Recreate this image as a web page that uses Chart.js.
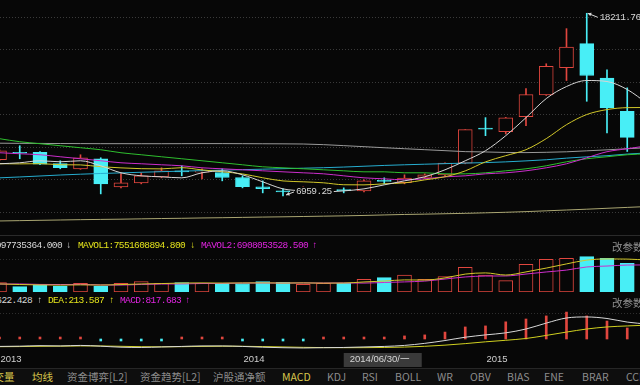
<!DOCTYPE html>
<html lang="zh-CN">
<head>
<meta charset="utf-8">
<title>月线 K线 / 成交量 / MACD</title>
<script src="https://cdn.jsdelivr.net/npm/chart.js@4.4.1/dist/chart.umd.min.js"></script>
<style>
  html, body { margin: 0; padding: 0; }
  body { width: 640px; height: 385px; background: #070707; position: relative; overflow: hidden; }
  canvas { position: absolute; left: 0; }
  .t { position: absolute; white-space: nowrap; font-family: "Liberation Mono", monospace; font-size: 9.5px; letter-spacing: -0.6px; line-height: 10px; }
  .cfg { position: absolute; left: 612px; white-space: nowrap; font: 10.5px "Noto Sans CJK SC", sans-serif; line-height: 12px; color: #8f8f8f; }
  .sep { position: absolute; left: 0; width: 640px; height: 1px; background: #2a2a2a; }
  #tabs { position: absolute; left: 0; top: 368px; width: 640px; height: 17px; background: #0e0e0e; border-top: 1px solid #262626; }
  #tabs span { position: absolute; top: 0; white-space: nowrap; font: 10.5px "Noto Sans CJK SC", sans-serif; line-height: 16px; color: #8c8c8c; }
  #tabs span.on { color: #d8c64c; }
</style>
</head>
<body>
<canvas id="kline" width="640" height="232" style="top:0"></canvas>
<div class="sep" style="top:235px"></div>
<canvas id="vol" width="640" height="52" style="top:240px"></canvas>
<canvas id="macd" width="640" height="62" style="top:306px"></canvas>

<!-- cabeceras de los paneles -->
<span class="t" style="right:578px;top:241px;color:#d8d8d8">VOL:6097735364.000</span>
<span class="t" style="left:66px;top:241px;color:#d8d8d8">↓</span>
<span class="t" style="left:78px;top:241px;color:#e4e41c">MAVOL1:7551608894.800</span>
<span class="t" style="left:190px;top:241px;color:#e4e41c">↓</span>
<span class="t" style="left:201px;top:241px;color:#e024e0">MAVOL2:6908053528.500</span>
<span class="t" style="left:312px;top:241px;color:#e024e0">↑</span>
<span class="cfg" style="top:241px">改参数</span>

<span class="t" style="right:608px;top:296px;color:#d8d8d8">DIF:622.428</span>
<span class="t" style="left:37px;top:296px;color:#d8d8d8">↑</span>
<span class="t" style="left:48px;top:296px;color:#e4e41c">DEA:213.587</span>
<span class="t" style="left:109px;top:296px;color:#e4e41c">↑</span>
<span class="t" style="left:120px;top:296px;color:#e024e0">MACD:817.683</span>
<span class="t" style="left:185px;top:296px;color:#e024e0">↑</span>
<span class="cfg" style="top:297px">改参数</span>

<div id="tabs">
  <span class="on" style="left:-17px">成交量</span>
  <span class="on" style="left:32px">均线</span>
  <span style="left:67px">资金博弈[L2]</span>
  <span style="left:140px">资金趋势[L2]</span>
  <span style="left:213px">沪股通净额</span>
  <span class="on" style="left:282px">MACD</span>
  <span style="left:327px">KDJ</span>
  <span style="left:362px">RSI</span>
  <span style="left:395px">BOLL</span>
  <span style="left:437px">WR</span>
  <span style="left:470px">OBV</span>
  <span style="left:507px">BIAS</span>
  <span style="left:544px">ENE</span>
  <span style="left:582px">BRAR</span>
  <span style="left:626px">CCI</span>
</div>

<script>
// datos mensuales
const months = ["2013-01","2013-02","2013-03","2013-04","2013-05","2013-06","2013-07","2013-08","2013-09","2013-10","2013-11","2013-12",
                "2014-01","2014-02","2014-03","2014-04","2014-05","2014-06","2014-07","2014-08","2014-09","2014-10","2014-11","2014-12",
                "2015-01","2015-02","2015-03","2015-04","2015-05","2015-06","2015-07","2015-08","2015-09"];
const open  = [9189, 9622, 9640, 8960, 8633, 9251, 7520, 7768, 8139, 8509, 8430, 8404, 8095, 7520, 7230, 7211, 7330, 7350, 7273, 7891, 7786, 8095, 8262, 8985, 11105, 10920, 11847, 13187, 14856, 16338, 14213, 12174, 10600];
const high  = [9800, 10054, 9700, 9127, 9498, 9313, 8386, 8386, 8695, 8818, 8633, 8633, 8200, 7891, 7397, 7520, 7460, 7459, 7953, 8077, 8262, 8324, 9004, 11043, 11785, 11800, 13577, 15103, 17266, 18211.76, 14731, 13620, 10900];
const low   = [9127, 9251, 8880, 8633, 8600, 7088, 7459, 7706, 8077, 8200, 8015, 7891, 7459, 7150, 6959.25, 7150, 7150, 7150, 7211, 7706, 7706, 8040, 8200, 8942, 10672, 10777, 11291, 13150, 14071, 12792, 10838, 9700, 9300];
const close = [9745, 9590, 8925, 8710, 9313, 7706, 7768, 8200, 8509, 8440, 8460, 8095, 7538, 7415, 7211, 7335, 7360, 7290, 7891, 7860, 8058, 8262, 8985, 11043, 11075, 11766, 13206, 14937, 16130, 14380, 12384, 10567, 10000];

const ma5   = [8942, 9004, 9127, 9065, 9127, 8818, 8386, 8200, 8139, 8076, 8386, 8509, 8262, 7829, 7397, 7273, 7211, 7273, 7397, 7644, 7891, 8139, 8571, 9127, 9745, 10672, 11784, 12959, 13700, 14071, 14009, 13515, 12650];
const ma10  = [8948, 8936, 8951, 8884, 8873, 8760, 8690, 8640, 8628, 8702, 8566, 8450, 8318, 8080, 7886, 7832, 7770, 7650, 7642, 7710, 7765, 7950, 8142, 8505, 9060, 9440, 9810, 10490, 11350, 11975, 12280, 12400, 12410];
const ma20  = [9622, 9560, 9498, 9374, 9251, 9127, 9004, 8942, 8880, 8818, 8695, 8633, 8571, 8509, 8447, 8386, 8324, 8200, 8076, 8015, 7953, 8015, 8139, 8200, 8324, 8386, 8509, 8695, 8942, 9313, 9684, 9869, 10054];
const ma30  = [10487, 10301, 10178, 10054, 9930, 9807, 9622, 9498, 9374, 9251, 9127, 9004, 8880, 8756, 8695, 8633, 8571, 8509, 8447, 8447, 8386, 8386, 8324, 8324, 8386, 8509, 8633, 8818, 9065, 9251, 9374, 9498, 9560];
const ma60  = [8076, 8130, 8190, 8250, 8300, 8345, 8380, 8420, 8455, 8490, 8520, 8550, 8580, 8610, 8640, 8670, 8700, 8740, 8790, 8840, 8880, 8915, 8950, 8985, 9015, 9060, 9120, 9190, 9290, 9370, 9440, 9540, 9610];
const ma120 = [10210, 10200, 10195, 10190, 10185, 10180, 10180, 10178, 10178, 10180, 10185, 10185, 10180, 10175, 10170, 10160, 10120, 10060, 9995, 9930, 9870, 9810, 9750, 9690, 9670, 9640, 9630, 9650, 9680, 9740, 9800, 9870, 9930];
const ma250 = [5420, 5440, 5460, 5480, 5500, 5515, 5530, 5550, 5570, 5585, 5605, 5620, 5640, 5660, 5675, 5695, 5715, 5735, 5760, 5790, 5820, 5840, 5865, 5890, 5920, 5955, 5995, 6045, 6095, 6145, 6200, 6255, 6310];
const priceGrid = [6000, 8000, 10000, 12000, 14000, 16000, 18000];

// volumen en 亿
const volume = [21.4, 12.2, 16.1, 13.8, 20.0, 13.8, 20.0, 23.7, 20.0, 21.9, 20.0, 20.0, 19.6, 23.7, 22.3, 17.7, 20.0, 20.0, 29.2, 32.9, 39.1, 29.2, 35.2, 56.8, 39.1, 26.0, 63.7, 75.2, 77.5, 81.2, 77.5, 66.0, 52.0];
const mavol1 = [18.6, 17.2, 16.3, 15.9, 16.4, 16.0, 17.1, 18.5, 19.4, 20.6, 20.9, 20.5, 20.8, 21.0, 20.6, 20.9, 20.4, 20.6, 23.1, 25.2, 27.8, 27.5, 32.4, 41.2, 43.9, 39.0, 46.2, 55.0, 64.6, 73.4, 76.1, 75.7, 73.5];
const mavol2 = [18.2, 18.5, 17.4, 17.2, 17.5, 16.2, 16.0, 17.4, 18.3, 18.6, 19.5, 19.8, 20.6, 20.8, 20.5, 20.9, 20.6, 20.8, 20.5, 21.9, 23.2, 25.1, 29.8, 34.6, 36.7, 36.9, 41.3, 46.1, 50.4, 57.6, 59.7, 62.0, 62.3];
const volGrid = [76];

// MACD
const dif  = [-290, -280, -260, -270, -250, -280, -320, -330, -310, -290, -270, -270, -290, -320, -340, -350, -340, -330, -310, -290, -250, -170, -60, 70, 160, 240, 390, 620, 820, 860, 800, 660, 580];
const dea  = [-300, -295, -285, -280, -270, -272, -285, -300, -305, -300, -290, -282, -284, -295, -310, -325, -335, -340, -338, -330, -315, -285, -240, -180, -110, -50, 20, 140, 270, 390, 470, 510, 540];
const macd = [40, 30, 40, 25, 40, -16, -40, -50, -10, 15, 20, 10, -15, -40, -50, -40, 10, 20, 40, 60, 120, 160, 270, 470, 510, 670, 780, 900, 1050, 900, 700, 430, 200];
const macdGrid = [1000];

const cursorIndex = 17;
const cursorLabel = "2014/06/30/一";

const RED = "#e0463e";
const CYAN = "#48eef6";
const BG = "#070707";

const candleUp = close.map((c, i) => c >= open[i]);
const volUp = close.map((c, i) => (i === 0 ? c >= open[i] : c >= close[i - 1]));

const xAxis = { type: "linear", min: 0.025, max: 31.63, offset: false, display: false };

function pts(arr) {
  return arr.map((v, i) => ({ x: i, y: v }));
}

function line(arr, color) {
  return { type: "line", data: pts(arr), borderColor: color, borderWidth: 1, pointRadius: 0,
           cubicInterpolationMode: "monotone", order: 1 };
}

// líneas punteadas horizontales
const dottedGrid = {
  id: "dottedGrid",
  beforeDatasetsDraw(chart, args, opts) {
    const { ctx, chartArea, scales } = chart;
    ctx.save();
    ctx.strokeStyle = opts.color;
    ctx.lineWidth = 1;
    ctx.setLineDash([1, 2]);
    for (const v of opts.values) {
      const y = Math.round(scales.y.getPixelForValue(v)) + 0.5;
      ctx.beginPath();
      ctx.moveTo(chartArea.left, y);
      ctx.lineTo(chartArea.right, y);
      ctx.stroke();
    }
    ctx.restore();
  }
};

// máximo y mínimo marcados con flecha
const extremes = {
  id: "extremes",
  afterDatasetsDraw(chart) {
    const { ctx, scales: { x, y } } = chart;
    let hi = 0, lo = 0;
    for (let i = 0; i < high.length; i++) {
      if (i > x.max) break;
      if (high[i] > high[hi]) hi = i;
      if (low[i] < low[lo]) lo = i;
    }
    ctx.save();
    ctx.font = '9.5px "Liberation Mono", monospace';
    ctx.letterSpacing = "-0.6px";
    ctx.textBaseline = "middle";
    ctx.strokeStyle = "#d8d8d8";
    ctx.fillStyle = "#d8d8d8";
    ctx.lineWidth = 1;

    const arrow = (ax, ay, bx, by) => {
      ctx.beginPath();
      ctx.moveTo(ax, ay);
      ctx.lineTo(bx, by);
      ctx.stroke();
      const a = Math.atan2(by - ay, bx - ax);
      ctx.beginPath();
      ctx.moveTo(ax, ay);
      ctx.lineTo(ax + 4 * Math.cos(a - 0.5), ay + 4 * Math.sin(a - 0.5));
      ctx.lineTo(ax + 4 * Math.cos(a + 0.5), ay + 4 * Math.sin(a + 0.5));
      ctx.closePath();
      ctx.fill();
    };

    const hx = x.getPixelForValue(hi), hy = y.getPixelForValue(high[hi]);
    arrow(hx + 1, hy, hx + 11, hy + 4);
    ctx.fillText(high[hi].toFixed(2), hx + 13, hy + 4);

    const lx = x.getPixelForValue(lo), ly = y.getPixelForValue(low[lo]);
    const txt = low[lo].toFixed(2);
    ctx.fillStyle = BG;
    ctx.fillRect(lx + 12, ly - 9, ctx.measureText(txt).width + 3, 10);
    ctx.fillStyle = "#d8d8d8";
    arrow(lx + 3, ly - 1, lx + 11, ly - 4);
    ctx.fillText(txt, lx + 13, ly - 4);
    ctx.restore();
  }
};

// etiquetas de año y fecha del cursor
const timeAxis = {
  id: "timeAxis",
  afterDraw(chart) {
    const { ctx, chartArea, scales: { x } } = chart;
    const ty = chartArea.bottom + 7.5;
    ctx.save();
    ctx.font = '9.5px "Liberation Sans", sans-serif';
    ctx.textBaseline = "middle";
    ctx.fillStyle = "#cfcfcf";
    months.forEach((m, i) => {
      if (m.endsWith("-01")) ctx.fillText(m.slice(0, 4), x.getPixelForValue(i) + 1, ty);
    });
    const cx = x.getPixelForValue(cursorIndex);
    ctx.fillStyle = "#3a3a3a";
    ctx.fillRect(cx, chartArea.bottom + 1, 78, 14);
    ctx.fillStyle = "#d6d6d6";
    ctx.fillText(cursorLabel, cx + 6, ty);
    ctx.restore();
  }
};

const common = {
  responsive: false,
  animation: false,
  events: [],
  layout: { padding: 0 }
};

new Chart(document.getElementById("kline"), {
  type: "bar",
  data: {
    datasets: [
      line(ma5, "#d6d6d6"),
      line(ma10, "#d2c82a"),
      line(ma20, "#cc2ecc"),
      line(ma30, "#2fbf2f"),
      line(ma60, "#27aed0"),
      line(ma120, "#9a9a9a"),
      line(ma250, "#aaa672"),
      {
        data: months.map((m, i) => ({ x: i, y: [open[i], close[i]] })),
        backgroundColor: candleUp.map(u => (u ? BG : CYAN)),
        borderColor: candleUp.map(u => (u ? RED : CYAN)),
        borderWidth: 1, borderSkipped: false, barThickness: 14, minBarLength: 1,
        grouped: false, order: 5
      },
      {
        data: months.map((m, i) => ({ x: i, y: [low[i], high[i]] })),
        backgroundColor: candleUp.map(u => (u ? RED : CYAN)),
        barThickness: 1, grouped: false, order: 6
      }
    ]
  },
  options: {
    ...common,
    scales: { x: xAxis, y: { min: 4740, max: 19030, display: false } },
    plugins: { legend: { display: false }, tooltip: { enabled: false },
               dottedGrid: { values: priceGrid, color: "#3a3a3a" } }
  },
  plugins: [dottedGrid, extremes]
});

new Chart(document.getElementById("vol"), {
  type: "bar",
  data: {
    datasets: [
      line(mavol1, "#d2c82a"),
      line(mavol2, "#cc2ecc"),
      {
        data: pts(volume),
        backgroundColor: volUp.map(u => (u ? BG : CYAN)),
        borderColor: volUp.map(u => (u ? RED : CYAN)),
        borderWidth: 1, borderSkipped: false, barThickness: 14,
        grouped: false, order: 5
      }
    ]
  },
  options: {
    ...common,
    scales: { x: xAxis, y: { min: 0, max: 119.6, display: false } },
    plugins: { legend: { display: false }, tooltip: { enabled: false },
               dottedGrid: { values: volGrid, color: "#2e2e2e" } }
  },
  plugins: [dottedGrid]
});

new Chart(document.getElementById("macd"), {
  type: "bar",
  data: {
    datasets: [
      line(dif, "#d8d8d8"),
      line(dea, "#d0d020"),
      {
        data: pts(macd),
        backgroundColor: macd.map(v => (v >= 0 ? RED : CYAN)),
        barThickness: 2, minBarLength: 2, grouped: false, order: 5
      }
    ]
  },
  options: {
    ...common,
    layout: { padding: { bottom: 16 } },
    scales: { x: xAxis, y: { min: -507, max: 1287, display: false } },
    plugins: { legend: { display: false }, tooltip: { enabled: false },
               dottedGrid: { values: macdGrid, color: "#2e2e2e" } }
  },
  plugins: [dottedGrid, timeAxis]
});
</script>
</body>
</html>
